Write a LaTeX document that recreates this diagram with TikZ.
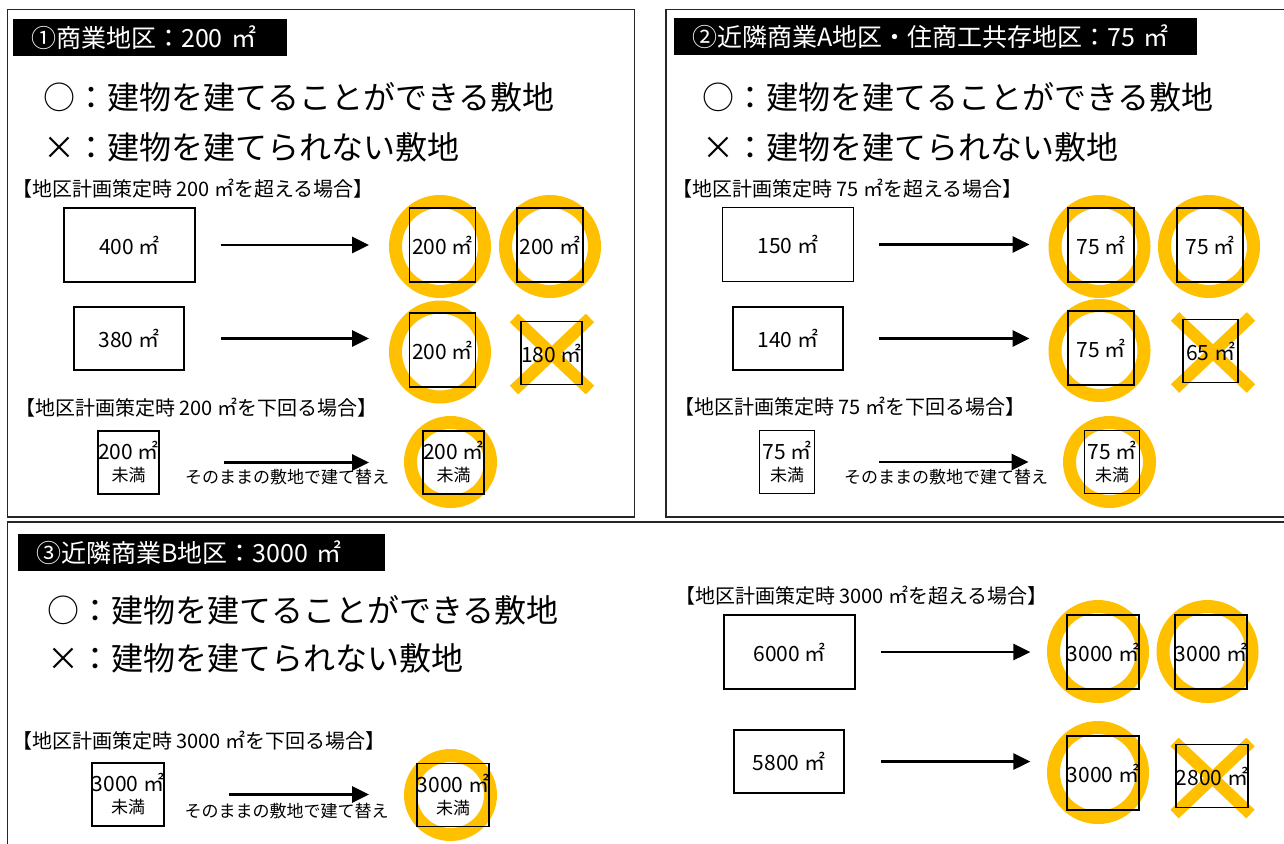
\documentclass[tikz,border=0pt]{standalone}
\usepackage{fontspec}
\setmainfont{Noto Sans CJK JP}
\usetikzlibrary{shapes.geometric,arrows.meta}
\definecolor{okgold}{HTML}{FFC000}

\newcommand{\bartitle}{\fontsize{25}{27}\selectfont}
\newcommand{\keyfont}{\fontsize{32}{35}\selectfont}
\newcommand{\headfont}{\fontsize{20}{22}\selectfont}
\newcommand{\lotfont}{\fontsize{21}{22}\selectfont}
\newcommand{\notefont}{\fontsize{17}{20}\selectfont}
% cross over a lot that cannot be built on
\newcommand{\ngmark}[1]{\draw[ng] ([shift={(-38,-36)}]#1) -- ([shift={(38,36)}]#1)
  ([shift={(-38,36)}]#1) -- ([shift={(38,-36)}]#1);}

\begin{document}
\begin{tikzpicture}
  [x=1pt,y=-1pt,
   panel/.style={draw=black!85,line width=1.3pt},
   titlebar/.style={fill=black,text=white,font=\bartitle,anchor=west,inner xsep=18pt,inner ysep=0pt,minimum height=37pt,align=left},
   keyline/.style={anchor=west,font=\keyfont,inner sep=0pt},
   casehead/.style={anchor=west,font=\headfont,inner sep=0pt},
   notetext/.style={font=\notefont,inner sep=0pt},
   lot/.style={draw,line width=1.6pt,inner sep=0pt,font=\lotfont,align=center},
   widelot/.style={lot,minimum width=131pt,minimum height=74pt},
   midlot/.style={lot,minimum width=110pt,minimum height=63pt},
   part/.style={lot,minimum width=66pt,minimum height=74pt},
   narrow/.style={lot,minimum width=55pt,minimum height=63pt},
   ring/.style={ellipse,draw=okgold,line width=13pt,minimum width=89pt,minimum height=90pt,inner sep=0pt},
   ringsm/.style={ring,minimum width=80pt,minimum height=79pt},
   ng/.style={draw=okgold,line width=12pt},
   lotarrow/.style={-{Triangle[length=17pt,width=16pt]},line width=2.8pt}]
  \fill[white] (0,0) rectangle (1284,843);
  \useasboundingbox (0,0) rectangle (1284,843);

  % panel 1
  \draw[panel] (7.5,9.5) rectangle (634.5,517);
  \node[titlebar,text width=238pt] (t1) at (13,37.5) {①商業地区：200 ㎡};
  \node[keyline] (ok1) at (43,97) {○：建物を建てることができる敷地};
  \node[keyline] (ng1) at (43,147) {×：建物を建てられない敷地};
  \node[casehead] (h1a) at (12,189) {【地区計画策定時 200 ㎡を超える場合】};
  \node[widelot] (b1a) at (129.5,245) {400 ㎡};
  \node[ring] (r1a) at (440,246.5) {};
  \node[part] (s1a) at (442.5,245) {200 ㎡};
  \node[ring] (r1b) at (550,246.5) {};
  \node[part] (s1b) at (550,245) {200 ㎡};
  \node[midlot] (b1b) at (129,338.5) {380 ㎡};
  \node[ring] (r1c) at (440,352) {};
  \node[part] (s1c) at (442.5,350) {200 ㎡};
  \coordinate (n1) at (552,354);
  \ngmark{n1}
  \node[narrow] (s1d) at (551.5,353) {180 ㎡};
  \node[casehead] (h1b) at (15,408) {【地区計画策定時 200 ㎡を下回る場合】};
  \node[narrow] (b1c) at (128.5,462.5) {200 ㎡\\{\notefont 未満}};
  \node[notetext] (l1) at (287,477) {そのままの敷地で建て替え};
  \node[ringsm] (r1e) at (450.5,462) {};
  \node[narrow] (s1e) at (453.5,462.5) {200 ㎡\\{\notefont 未満}};
  \foreach \a/\b/\s/\e in {b1a/r1a/25/20, b1b/r1c/36/20, b1c/r1e/64/35}
    \draw[lotarrow,shorten <=\s pt,shorten >=\e pt] (\a.east) -- (\a.east -| \b.west);

  % panel 2
  \draw[panel] (666,9.5) rectangle (1292,517);
  \node[titlebar,text width=487pt] (t2) at (674,37) {②近隣商業A地区・住商工共存地区：75 ㎡};
  \node[keyline] (ok2) at (702,97) {○：建物を建てることができる敷地};
  \node[keyline] (ng2) at (702,147) {×：建物を建てられない敷地};
  \node[casehead] (h2a) at (672,189) {【地区計画策定時 75 ㎡を超える場合】};
  \node[widelot] (b2a) at (788,244.5) {150 ㎡};
  \node[ring] (r2a) at (1099.5,246.5) {};
  \node[part] (s2a) at (1101,245) {75 ㎡};
  \node[ring] (r2b) at (1209,246.5) {};
  \node[part] (s2b) at (1210,245) {75 ㎡};
  \node[midlot] (b2b) at (788,338.5) {140 ㎡};
  \node[ring] (r2c) at (1099.5,350.5) {};
  \node[part] (s2c) at (1101,348) {75 ㎡};
  \coordinate (n2) at (1213,352.5);
  \ngmark{n2}
  \node[narrow] (s2d) at (1210.5,351) {65 ㎡};
  \node[casehead] (h2b) at (674,407) {【地区計画策定時 75 ㎡を下回る場合】};
  \node[narrow] (b2c) at (787,462) {75 ㎡\\{\notefont 未満}};
  \node[notetext] (l2) at (946,477) {そのままの敷地で建て替え};
  \node[ringsm] (r2e) at (1109.5,462) {};
  \node[narrow] (s2e) at (1112,462) {75 ㎡\\{\notefont 未満}};
  \foreach \a/\b/\s/\e in {b2a/r2a/24.5/19, b2b/r2c/35/19, b2c/r2e/64/34.5}
    \draw[lotarrow,shorten <=\s pt,shorten >=\e pt] (\a.east) -- (\a.east -| \b.west);

  % panel 3
  \draw[panel] (7.5,522) rectangle (1292,850);
  \node[titlebar,text width=331pt] (t3) at (18,552.5) {③近隣商業B地区：3000 ㎡};
  \node[keyline] (ok3) at (47,610) {○：建物を建てることができる敷地};
  \node[keyline] (ng3) at (47,658) {×：建物を建てられない敷地};
  \node[casehead] (h3a) at (12,741) {【地区計画策定時 3000 ㎡を下回る場合】};
  \node[narrow] (b3a) at (128,794.5) {3000 ㎡\\{\notefont 未満}};
  \node[notetext] (l3) at (286.5,811) {そのままの敷地で建て替え};
  \node[ringsm] (r3a) at (450.5,795) {};
  \node[narrow] (s3a) at (453,795) {3000 ㎡\\{\notefont 未満}};
  \node[casehead] (h3b) at (675,596) {【地区計画策定時 3000 ㎡を超える場合】};
  \node[widelot] (b3b) at (789.5,652) {6000 ㎡};
  \node[ring] (r3b) at (1098,651.5) {};
  \node[part] (s3b) at (1103,652) {3000 ㎡};
  \node[ring] (r3c) at (1207.5,651.5) {};
  \node[part] (s3c) at (1211,652) {3000 ㎡};
  \node[midlot] (b3c) at (789,761.5) {5800 ㎡};
  \node[ring] (r3d) at (1098,772.5) {};
  \node[part] (s3d) at (1103,773) {3000 ㎡};
  \coordinate (n3) at (1212.5,778);
  \ngmark{n3}
  \node[narrow] (s3e) at (1212,776) {2800 ㎡};
  \foreach \a/\b/\s/\e in {b3a/r3a/64/35, b3b/r3b/25/16.6, b3c/r3d/36/16.6}
    \draw[lotarrow,shorten <=\s pt,shorten >=\e pt] (\a.east) -- (\a.east -| \b.west);
\end{tikzpicture}
\end{document}
